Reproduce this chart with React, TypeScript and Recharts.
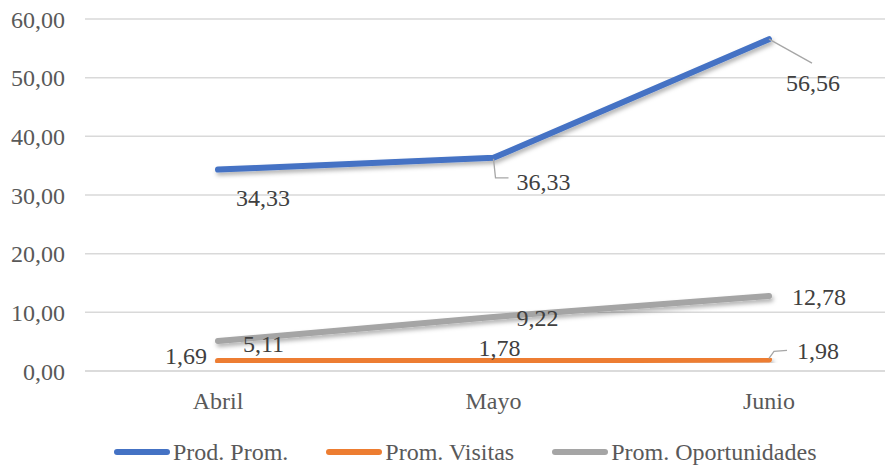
import React from "react";
import { LineChart, Line, XAxis, YAxis, CartesianGrid, Legend, LabelList } from "recharts";

const months = ["Abril", "Mayo", "Junio"];
const prodProm = [34.33, 36.33, 56.56];
const promVisitas = [1.69, 1.78, 1.98];
const promOportunidades = [5.11, 9.22, 12.78];
const yTicks = [0, 10, 20, 30, 40, 50, 60];

const data = months.map((m, i) => ({
  month: m,
  prod: prodProm[i],
  visitas: promVisitas[i],
  oport: promOportunidades[i],
}));

const FONT = "Liberation Serif";
const FS = 24;
const fmt = (v: number) => v.toFixed(2).replace(".", ",");

type LabelCfg = { dx: number; dy: number; anchor: "start" | "end" | "middle"; leader?: number[][] };

const prodLabels: LabelCfg[] = [
  { dx: 18, dy: 28, anchor: "start" },
  { dx: 23, dy: 24, anchor: "start", leader: [[0, 1], [2, 20], [15, 20]] },
  { dx: 17, dy: 44, anchor: "start", leader: [[0, 0], [43, 24]] },
];
const visitasLabels: LabelCfg[] = [
  { dx: -11, dy: -5, anchor: "end" },
  { dx: -15, dy: -13, anchor: "start" },
  { dx: 28, dy: -8, anchor: "start", leader: [[0, -1], [5, -8], [18, -9]] },
];
const oportLabels: LabelCfg[] = [
  { dx: 25, dy: 3, anchor: "start" },
  { dx: 23, dy: 1, anchor: "start" },
  { dx: 23, dy: 1, anchor: "start" },
];

const makeLabel = (cfg: LabelCfg[]) => (props: any) => {
  const { x, y, value, index } = props;
  const c = cfg[index];
  if (!c) return null;
  return (
    <g key={`l-${index}`}>
      {c.leader && (
        <polyline
          points={c.leader.map((p) => `${x + p[0]},${y + p[1]}`).join(" ")}
          fill="none"
          stroke="#A6A6A6"
          strokeWidth={1.3}
        />
      )}
      <text
        x={x + c.dx}
        y={y + c.dy}
        textAnchor={c.anchor}
        dominantBaseline="central"
        fontSize={FS}
        fill="#404040"
      >
        {fmt(value)}
      </text>
    </g>
  );
};

const legendItems = [
  { name: "Prod. Prom.", color: "#4472C4" },
  { name: "Prom. Visitas", color: "#ED7D31" },
  { name: "Prom. Oportunidades", color: "#A5A5A5" },
];

const renderLegend = () => (
  <div
    style={{
      display: "flex",
      alignItems: "center",
      paddingLeft: 113,
      paddingTop: 16,
      fontSize: FS,
      color: "#595959",
      lineHeight: "26px",
    }}
  >
    {legendItems.map((it, i) => (
      <div key={it.name} style={{ display: "flex", alignItems: "center", marginRight: i < 2 ? 37 : 0 }}>
        <svg width={58} height={10} style={{ marginRight: 2 }}>
          <line x1={4} y1={5} x2={54} y2={5} stroke={it.color} strokeWidth={6} strokeLinecap="round" />
        </svg>
        <span>{it.name}</span>
      </div>
    ))}
  </div>
);

const tickStyle = { fontSize: FS, fill: "#595959" };

const css = `
html body #root #chartbox, html body #root #chartbox *, html body #root #chartbox svg text, html body #root #chartbox svg tspan {
  font-family: "Liberation Serif", "Times New Roman", serif !important;
}
`;

export default function App() {
  return (
    <div id="chartbox" style={{ position: "absolute", left: 0, top: 0, width: 889, height: 465, background: "#fff" }}>
      <style>{css}</style>
      <LineChart width={889} height={465} data={data} margin={{ top: 19, right: 4, left: 0, bottom: 0 }}>
        <defs>
          <filter id="shadow" x="-10%" y="-50%" width="130%" height="250%">
            <feDropShadow dx="1.5" dy="3" stdDeviation="2" floodColor="#000" floodOpacity="0.3" />
          </filter>
        </defs>
        <CartesianGrid vertical={false} stroke="#D9D9D9" strokeWidth={1.5} />
        <XAxis
          dataKey="month"
          padding={{ left: 133, right: 116 }}
          axisLine={{ stroke: "#D9D9D9", strokeWidth: 1.5 }}
          tickLine={false}
          tickMargin={15}
          height={52}
          tick={tickStyle}
        />
        <YAxis
          domain={[0, 60]}
          ticks={yTicks}
          tickFormatter={fmt}
          axisLine={false}
          tickLine={false}
          width={85}
          tickMargin={14}
          tick={tickStyle}
        />
        <Legend verticalAlign="bottom" height={42} content={renderLegend} />
        <Line
          dataKey="prod"
          stroke="#4472C4"
          strokeWidth={6}
          strokeLinecap="round"
          strokeLinejoin="round"
          dot={false}
          activeDot={false}
          filter="url(#shadow)"
          isAnimationActive={false}
        >
          <LabelList dataKey="prod" content={makeLabel(prodLabels)} />
        </Line>
        <Line
          dataKey="visitas"
          stroke="#ED7D31"
          strokeWidth={6}
          strokeLinecap="round"
          strokeLinejoin="round"
          dot={false}
          activeDot={false}
          filter="url(#shadow)"
          isAnimationActive={false}
        >
          <LabelList dataKey="visitas" content={makeLabel(visitasLabels)} />
        </Line>
        <Line
          dataKey="oport"
          stroke="#A5A5A5"
          strokeWidth={6}
          strokeLinecap="round"
          strokeLinejoin="round"
          dot={false}
          activeDot={false}
          filter="url(#shadow)"
          isAnimationActive={false}
        >
          <LabelList dataKey="oport" content={makeLabel(oportLabels)} />
        </Line>
      </LineChart>
    </div>
  );
}
